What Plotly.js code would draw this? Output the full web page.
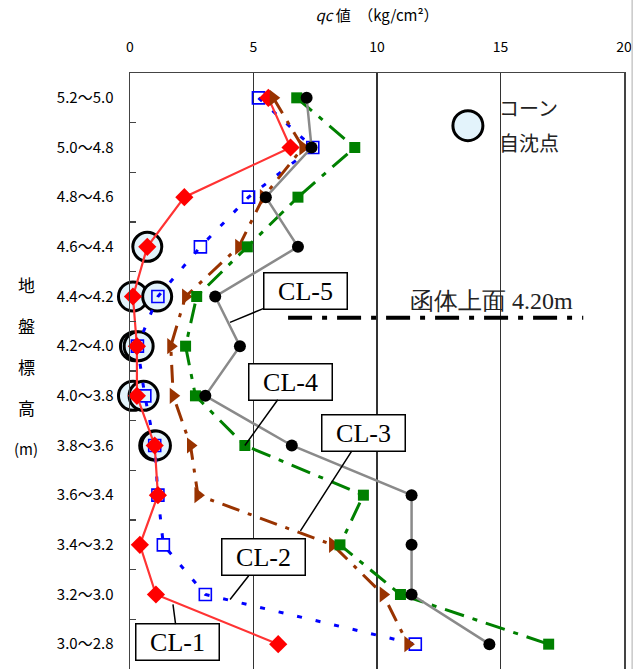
<!DOCTYPE html>
<html>
<head>
<meta charset="utf-8">
<script src="https://cdn.plot.ly/plotly-3.0.1.min.js"></script>
<style>html,body{margin:0;padding:0;background:#fff;}#chart{width:637px;height:669px;}</style>
</head>
<body>
<div id="chart"></div>
<script>
// Depth ranges (ground elevation, m)
const rowLabels = ['5.2～5.0','5.0～4.8','4.8～4.6','4.6～4.4','4.4～4.2','4.2～4.0','4.0～3.8','3.8～3.6','3.6～3.4','3.4～3.2','3.2～3.0','3.0～2.8'];
// qc values (kg/cm2) per series
const cl1 = [5.6, 6.5, 2.2, 0.7, 0.12, 0.28, 0.28, 1.0, 1.13, 0.4, 1.05, 6.0];
const cl2 = [5.2, 7.4, 4.8, 2.85, 1.13, 0.3, 0.6, 1.0, 1.13, 1.35, 3.05, 11.55];
const cl3 = [5.8, 7.0, 5.4, 4.4, 2.25, 1.65, 1.75, 2.45, 2.75, 8.2, 10.25, 11.25];
const cl4 = [6.75, 9.1, 6.8, 4.75, 2.7, 2.25, 2.65, 4.65, 9.45, 8.5, 10.95, 16.95];
const cl5 = [7.15, 7.35, 5.5, 6.8, 3.45, 4.45, 3.05, 6.55, 11.4, 11.4, 11.4, 14.55];
// Cone self-sinking points
const coneX = [0.7, 0.12, 1.1, 0.2, 0.35, 0.12, 0.55, 0.98, 1.05];
const coneY = ['4.6～4.4','4.4～4.2','4.4～4.2','4.2～4.0','4.2～4.0','4.0～3.8','4.0～3.8','3.8～3.6','3.8～3.6'];
const seriesNames = ['CL-1','CL-2','CL-3','CL-4','CL-5'];
const xTicks = [0, 5, 10, 15, 20];
const yTitleChars = ['地','盤','標','高','(m)'];
const boxTopLevel = 4.20;

const gothic = 'Noto Sans CJK JP, sans-serif';
const serif = 'Liberation Serif, Times New Roman, serif';

const traces = [
  {x: coneX, y: coneY, type:'scatter', mode:'markers', name:'コーン自沈点', cliponaxis:false,
   marker:{symbol:'circle', size:29, color:'#e3f3fb', line:{color:'#000', width:3}}},
  {x: cl2, y: rowLabels, type:'scatter', mode:'lines+markers', name: seriesNames[1], cliponaxis:false,
   line:{color:'#0000ff', width:3, dash:'5px,14px'},
   marker:{symbol:'square-open', size:12, color:'#0000ff', line:{width:1.6}}},
  {x: cl1, y: rowLabels, type:'scatter', mode:'lines+markers', name: seriesNames[0], cliponaxis:false,
   line:{color:'#ff3333', width:2.2},
   marker:{symbol:'diamond', size:14, color:'#ff0000'}},
  {x: cl3, y: rowLabels, type:'scatter', mode:'lines+markers', name: seriesNames[2],
   line:{color:'#993300', width:3, dash:'18px,9px,4px,9px'},
   marker:{symbol:'triangle-right', size:14, color:'#993300'}},
  {x: cl4, y: rowLabels, type:'scatter', mode:'lines+markers', name: seriesNames[3],
   line:{color:'#008000', width:3, dash:'20px,9px,5px,9px'},
   marker:{symbol:'square', size:11, color:'#008000'}},
  {x: cl5, y: rowLabels, type:'scatter', mode:'lines+markers', name: seriesNames[4],
   line:{color:'#8a8a8a', width:2.5},
   marker:{symbol:'circle', size:12, color:'#000'}}
];

// Callouts: tip in data coords, box offset in px
function callout(text, xv, yv, ax, ay) {
  return {x: xv, y: yv, xref:'x', yref:'y', text: text, showarrow:true, arrowhead:0,
    arrowwidth:1.5, arrowcolor:'#000', ax: ax, ay: ay, standoff:0,
    font:{family: serif, size:26, color:'#000'}, bgcolor:'#fff', bordercolor:'#000',
    borderwidth:1.5, borderpad:2, width:78, height:31};
}
const annotations = [
  callout(seriesNames[4], 4.05, 4.52, 75, -31),
  callout(seriesNames[3], cl4[7], 7, 46, -64),
  callout(seriesNames[2], 6.9, 8.72, 63, -98),
  callout(seriesNames[1], 4.05, 10.1, 33, -42),
  callout(seriesNames[0], 1.74, 10.2, 5, 38),
  {x: 14.85, y: 0.2, xref:'x', yref:'y', xanchor:'left', yanchor:'middle', showarrow:false,
   text:'コーン', font:{family: gothic, size:20, color:'#222'}},
  {x: 14.85, y: 0.9, xref:'x', yref:'y', xanchor:'left', yanchor:'middle', showarrow:false,
   text:'自沈点', font:{family: gothic, size:20, color:'#222'}},
  {x: 14.65, y: 4.1, xref:'x', yref:'y', xanchor:'center', yanchor:'middle', showarrow:false,
   text:'函体上面 ' + boxTopLevel.toFixed(2) + 'm', font:{family: serif, size:24, color:'#222'}}
];
yTitleChars.forEach((c, i) => {
  annotations.push({x: -0.21, y: 3.75 + i * 0.83, xref:'paper', yref:'y', showarrow:false,
    xanchor:'center', yanchor:'middle', text: c,
    font:{family: gothic, size: c.length > 1 ? 15 : 17, color:'#000'}});
});

const shapes = [
  // white gap in grid behind legend text
  {type:'rect', layer:'below', xref:'x', yref:'y', x0:14.7, x1:15.3, y0:-0.06, y1:1.32,
   fillcolor:'#fff', line:{width:0}},
  // legend circle
  {type:'circle', layer:'above', xref:'x', yref:'y', xsizemode:'pixel', ysizemode:'pixel',
   xanchor:13.68, yanchor:0.56, x0:-15, x1:15, y0:-15, y1:15,
   fillcolor:'#e3f3fb', line:{color:'#000', width:3}},
  // box top level line
  {type:'line', layer:'above', xref:'x', yref:'y', x0:6.4, x1:18.35, y0:4.43, y1:4.43,
   line:{color:'#000', width:4, dash:'24px,10px,5px,10px'}},
  // figure right edge
  {type:'line', xref:'paper', yref:'paper', x0:1.0165, x1:1.0165, y0:0, y1:1.13,
   line:{color:'#c8c8c8', width:1.5}}
];

const layout = {
  width:637, height:669,
  margin:{l:130, r:13, t:73, b:0},
  paper_bgcolor:'#fff', plot_bgcolor:'#fff',
  showlegend:false,
  xaxis:{side:'top', range:[0,20], tickvals:xTicks, ticktext:xTicks.map(String),
    showgrid:true, gridcolor:'#333', gridwidth:1.5, zeroline:false,
    showline:true, mirror:true, linecolor:'#444', linewidth:1.5, ticks:'',
    ticklabelstandoff:14,
    tickfont:{family: gothic, size:14, color:'#000'},
    title:{text:'<i>qc</i> 値　（kg/cm²）', font:{family: gothic, size:15, color:'#000'}, standoff:10}},
  yaxis:{type:'category', categoryarray: rowLabels, categoryorder:'array', range:[11.5,-0.5],
    tickson:'boundaries', ticks:'inside', ticklen:6, tickcolor:'#444', tickwidth:1.2,
    showgrid:false, zeroline:false, showline:true, mirror:true, linecolor:'#444', linewidth:1.5,
    ticklabelstandoff:12,
    tickfont:{family: gothic, size:15, color:'#000'}},
  annotations: annotations,
  shapes: shapes
};

Plotly.newPlot('chart', traces, layout, {displayModeBar:false, staticPlot:true});
</script>
</body>
</html>
